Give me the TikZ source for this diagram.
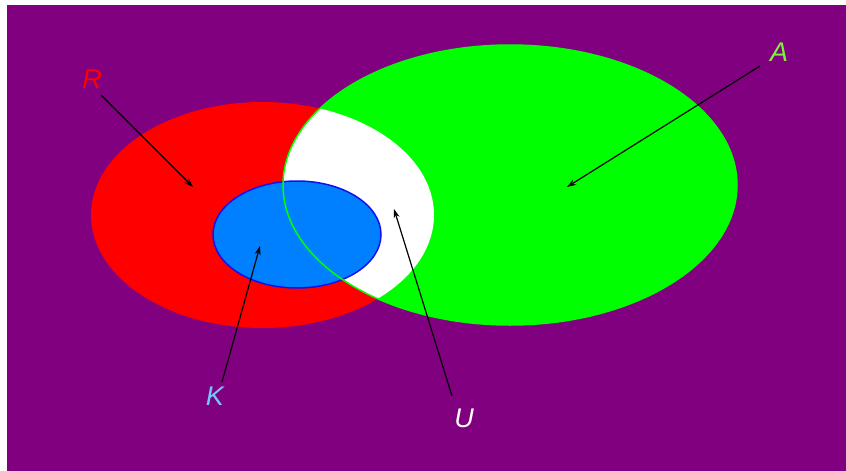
\documentclass[tikz,border=0pt]{standalone}
\usepackage{fontspec}
\setmainfont{Liberation Sans}
\usetikzlibrary{arrows.meta}
\definecolor{bgpurple}{HTML}{800080}
\definecolor{setred}{HTML}{FF0000}
\definecolor{setgreen}{HTML}{00FF00}
\definecolor{setblue}{HTML}{0080FF}
\definecolor{setblueline}{HTML}{1010F0}
\definecolor{labA}{HTML}{80F040}
\definecolor{labK}{HTML}{70C8FF}
\tikzset{
  lab/.style={font=\fontsize{27}{27}\selectfont\itshape, inner sep=0pt, anchor=center},
  pointer/.style={draw=black, line width=1.2pt, -{Stealth[length=9pt,width=6pt]}},
}
\begin{document}
\begin{tikzpicture}[x=1pt,y=-1pt]
\useasboundingbox (0,0) rectangle (846,471);
\fill[white] (0,0) rectangle (846,471);
\fill[bgpurple] (7,5) rectangle (846,471);
% sets
\fill[setred] (262.5,215) ellipse [x radius=171.5, y radius=113];
\fill[setgreen] (510,185) ellipse [x radius=227, y radius=140];
\begin{scope}
  \clip (262.5,215) ellipse [x radius=171.5, y radius=113];
  \fill[white] (510,185) ellipse [x radius=227, y radius=140];
\end{scope}
\filldraw[fill=setblue, draw=setblueline, line width=1.5pt] (297,234.5) ellipse [x radius=84, y radius=53.5];
\draw[setgreen, line width=1.5pt] (510,185) ellipse [x radius=227, y radius=140];
% labels
\node[lab, text=setred] (R) at (92,79) {R};
\node[lab, text=labA] (A) at (779,52) {A};
\node[lab, text=labK] (K) at (215,396) {K};
\node[lab, text=white] (U) at (464,418) {U};
% arrow ends
\coordinate (rs) at (101,95);  \coordinate (re) at (193,187);
\coordinate (as) at (760,66);  \coordinate (ae) at (567,187);
\coordinate (ks) at (222,382); \coordinate (ke) at (260,246);
\coordinate (us) at (452,396); \coordinate (ue) at (394,209);
\draw[pointer] (rs) -- (re);
\draw[pointer] (as) -- (ae);
\draw[pointer] (ks) -- (ke);
\draw[pointer] (us) -- (ue);
\end{tikzpicture}
\end{document}
